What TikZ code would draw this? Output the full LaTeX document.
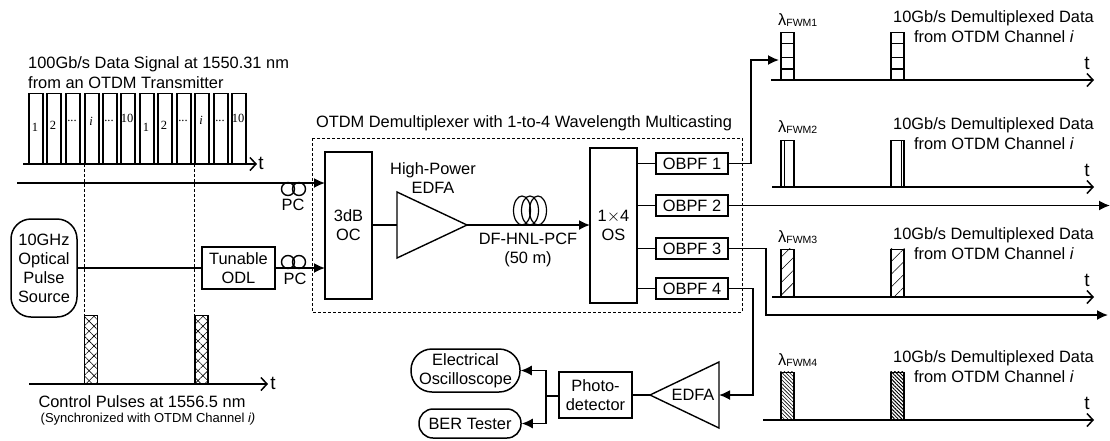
\documentclass[tikz,border=0pt]{standalone}
\usepackage{fontspec}
\setmainfont{Liberation Sans}
\newfontfamily\pulsefont{Liberation Serif}
\usetikzlibrary{arrows.meta,patterns.meta,shapes.geometric}
\tikzset{
  lbl/.style={inner sep=0pt,align=center,font=\fontsize{16.4}{19.5}\selectfont},
  tiny/.style={inner sep=0pt,font=\pulsefont\fontsize{12.5}{12.5}\selectfont},
  blk/.style={draw,line width=1.5pt,inner sep=0pt,align=center,font=\fontsize{16.4}{19}\selectfont},
  pulse/.style={draw,line width=1.5pt,inner sep=0pt,minimum width=14pt,anchor=south west},
  round/.style={blk,rounded corners=20pt},
  amp/.style={draw,line width=1.4pt},
  sig/.style={line width=1.7pt,-{Latex[length=11pt,width=10pt]}},
  wire/.style={line width=1.5pt},
  axis/.style={line width=1.5pt,-{Straight Barb[length=6pt,width=13pt,line width=1.5pt]}},
  guide/.style={densely dashed,line width=0.7pt},
  coil/.style={draw,line width=1.4pt,circle,inner sep=0pt,minimum size=13pt},
  tlbl/.style={inner sep=0pt,font=\fontsize{19}{19}\selectfont},
}
\begin{document}
\begin{tikzpicture}[x=1pt,y=-1pt]
  \useasboundingbox (0,0) rectangle (1110,440);
  % input data signal
  \node[lbl,anchor=west] (datatitle) at (28,64) {100Gb/s Data Signal at 1550.31 nm};
  \node[lbl,anchor=west] (datasub) at (28,83) {from an OTDM Transmitter};
  \foreach \n/\x/\t/\yy in {1/28/1/127,2/46/2/125,3/65/{...}/121,4/84/{\textit{i}}/121,5/102/{...}/121,6/120/10/118,7/139/1/127,8/157/2/125,9/176/{...}/121,10/194/{\textit{i}}/120,11/213/{...}/121,12/231/10/118}
    \node[pulse,minimum height=70pt] (p\n) at (\x,164) {}
      node[tiny] at (\x+7,\yy) {\t};
  \coordinate (dataL) at (23,164);
  \coordinate (dataR) at (257,164);
  \draw[axis] (dataL) to (dataR);
  \node[tlbl] (datat) at (261,163) {t};

  % demultiplexer
  \node[lbl] (demuxtitle) at (524,123) {OTDM Demultiplexer with 1-to-4 Wavelength Multicasting};
  \draw[guide] (312,138) rectangle (742,312);
  \node[blk,minimum width=47pt,minimum height=147pt] (oc) at (348.5,225.5) {3dB\\OC};
  \node[blk,minimum width=47pt,minimum height=155pt] (os) at (613.5,225.5) {1$\times$4\\OS};
  \coordinate (ampA) at (397,192);
  \coordinate (ampB) at (397,258);
  \coordinate (ampC) at (467,225);
  \coordinate (ampIn) at (397,225);
  \draw[amp] (ampA) -- (ampC) -- (ampB) -- cycle;
  \node[lbl] (amplbl) at (433,178) {High-Power\\EDFA};
  \node[lbl] (fiberlbl) at (528,250) {DF-HNL-PCF\\(50 m)};
  \foreach \x in {522,530,538}
    \draw[line width=1.2pt] (\x,210.5) ellipse (8.5pt and 14.5pt);
  \coordinate (osIn) at (590,225);
  \draw[wire] (oc.east|-ampIn) to (ampIn);
  \draw[sig] (ampC) to (osIn);

  \node[blk,minimum width=72pt,minimum height=21pt] (f1) at (692,163.5) {OBPF 1};
  \node[blk,minimum width=72pt,minimum height=21pt] (f2) at (692,205.5) {OBPF 2};
  \node[blk,minimum width=72pt,minimum height=21pt] (f3) at (692,248.5) {OBPF 3};
  \node[blk,minimum width=72pt,minimum height=21pt] (f4) at (692,288.5) {OBPF 4};
  \foreach \n in {1,2,3,4}
    \draw[wire] (f\n.west-|os.east) to (f\n.west);

  % control branch
  \node[round,minimum width=66pt,minimum height=98pt] (src) at (44,268) {10GHz\\Optical\\Pulse\\Source};
  \node[blk,minimum width=73pt,minimum height=42pt] (odl) at (238.5,268) {Tunable\\ODL};
  \coordinate (inA) at (17,183);
  \coordinate (ocA) at (325,183);
  \coordinate (ocB) at (325,268);
  \draw[wire] (src) to (odl);
  \draw[sig] (inA) to (ocA);
  \draw[sig] (odl) to (ocB);
  \foreach \n/\y in {a/189,b/262} {
    \node[coil] (pc\n1) at (288,\y) {};
    \node[coil] (pc\n2) at (299,\y) {};
  }
  \node[lbl] (pcalbl) at (293,205) {PC};
  \node[lbl] (pcblbl) at (295,279) {PC};

  % control pulses
  \node[pulse,minimum width=13pt,minimum height=68pt,pattern={Lines[angle=45,distance=7pt,line width=.6pt]},
    preaction={pattern={Lines[angle=-45,distance=7pt,line width=.6pt]}}] (c1) at (84,384) {};
  \node[pulse,minimum width=13pt,minimum height=68pt,pattern={Lines[angle=45,distance=7pt,line width=.6pt]},
    preaction={pattern={Lines[angle=-45,distance=7pt,line width=.6pt]}}] (c2) at (194,384) {};
  \coordinate (ctrlL) at (29,384);
  \coordinate (ctrlR) at (268,384);
  \draw[axis] (ctrlL) to (ctrlR);
  \node[tlbl] (ctrlt) at (273,383) {t};
  \node[lbl] (ctrllbl) at (142,402) {Control Pulses at 1556.5 nm};
  \node[inner sep=0pt,font=\fontsize{13}{14}\selectfont] (ctrlsub) at (148,419) {(Synchronized with OTDM Channel \textit{i)}};
  \draw[guide] (p4.south west) to (c1.north west);
  \draw[guide] (p10.south west) to (c2.north west);

  % outputs
  \coordinate (o1) at (751,163.5);
  \coordinate (o1b) at (751,60);
  \coordinate (o1e) at (779,60);
  \draw[sig] (f1.east) to (o1) to (o1b) to (o1e);
  \coordinate (o2e) at (1110,205.5);
  \draw[sig] (f2.east) to (o2e);
  \coordinate (o3) at (766,248.5);
  \coordinate (o3b) at (766,315);
  \coordinate (o3e) at (1108,315);
  \draw[sig] (f3.east) to (o3) to (o3b) to (o3e);

  % receiver
  \coordinate (rxA) at (719,362);
  \coordinate (rxB) at (719,428);
  \coordinate (rxC) at (650,395);
  \coordinate (rxIn) at (719,395);
  \draw[amp] (rxA) -- (rxC) -- (rxB) -- cycle;
  \node[lbl] (rxlbl) at (693,395) {EDFA};
  \coordinate (o4) at (753,288.5);
  \coordinate (o4b) at (753,395);
  \draw[sig] (f4.east) to (o4) to (o4b) to (rxIn);
  \node[blk,minimum width=73pt,minimum height=46pt] (pd) at (595.5,395) {Photo-\\detector};
  \draw[wire] (pd.east|-rxC) to (rxC);
  \node[round,rounded corners=21pt,minimum width=109pt,minimum height=43pt] (scope) at (465.5,370.5) {Electrical\\Oscilloscope};
  \node[round,rounded corners=14pt,minimum width=102pt,minimum height=29pt] (ber) at (470,423.5) {BER Tester};
  \coordinate (bus) at (546,396);
  \coordinate (busA) at (546,370.5);
  \coordinate (busB) at (546,423.5);
  \draw[wire] (pd.west|-bus) to (bus);
  \draw[sig,line width=1.2pt] (bus) to (busA) to (scope.east);
  \draw[sig,line width=1.2pt] (bus) to (busB) to (ber.east);

  % demultiplexed channels
  \foreach \n/\ya/\h/\xl in {1/80/47/771,2/187/46/772,3/297/47/772,4/420/47/763} {
    \node[pulse,minimum width=13pt,minimum height=\h pt] (a\n) at (780,\ya) {};
    \node[pulse,minimum width=13pt,minimum height=\h pt] (b\n) at (890,\ya) {};
    \coordinate (axL\n) at (\xl,\ya);
    \coordinate (axR\n) at (1094,\ya);
    \draw[axis] (axL\n) to (axR\n);
    \node[tlbl] (t\n) at (1087,\ya-17) {t};
    \node[lbl,anchor=base] (ch\n) at (993.5,\ya-57.5) {10Gb/s Demultiplexed Data};
    \node[lbl,anchor=base] (chb\n) at (994,\ya-37.5) {from OTDM Channel \textit{i}};
    \node[inner sep=0pt,anchor=base west,font=\fontsize{16.4}{17}\selectfont] (lam\n) at (778,\ya-55) {λ\raisebox{-1.5pt}{\fontsize{10.5}{11}\selectfont FWM\n}};
  }
  \foreach \y/\w in {43/.7,57/.5,69/1.2} {
    \draw[line width=\w pt] (a1.west|-0,\y) to (a1.east|-0,\y);
    \draw[line width=\w pt] (b1.west|-0,\y) to (b1.east|-0,\y);
  }
  \draw[line width=.9pt] (784,141) to (784,187);
  \draw[line width=.9pt] (901,141) to (901,187);
  \foreach \p in {a3,b3}
    \path[pattern={Lines[angle=45,distance=9pt,line width=.6pt]}] (\p.south west) rectangle (\p.north east);
  \path[pattern={Lines[angle=-45,distance=2.6pt,line width=.6pt]}] (a4.south west) rectangle (a4.north east);
  \path[pattern={Lines[angle=-45,distance=2.6pt,line width=1pt]}] (b4.south west) rectangle (b4.north east);
\end{tikzpicture}
\end{document}
